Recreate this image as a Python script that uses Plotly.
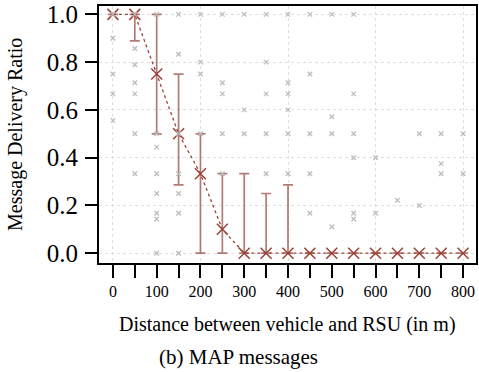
import plotly.graph_objects as go

# ---- data ----
distances = [0, 50, 100, 150, 200, 250, 300, 350, 400, 450, 500, 550, 600, 650, 700, 750, 800]
mean_ratio = [1.0, 1.0, 0.75, 0.5, 0.333, 0.1, 0, 0, 0, 0, 0, 0, 0, 0, 0, 0, 0]
upper_ci = [1.0, 1.0, 1.0, 0.75, 0.5, 0.333, 0.333, 0.25, 0.286, 0, 0, 0, 0, 0, 0, 0, 0]
lower_ci = [1.0, 0.889, 0.5, 0.286, 0, 0, 0, 0, 0, 0, 0, 0, 0, 0, 0, 0, 0]

raw_x = ([0]*5 + [50]*7 + [100]*8 + [150]*7 + [200]*4 + [250]*5 + [300]*3 + [350]*5 +
         [400]*6 + [450]*5 + [500]*4 + [550]*6 + [600]*2 + [650] + [700]*2 + [750]*3 + [800]*2)
raw_y = ([1.0, 0.9, 0.75, 0.667, 0.556] +
         [1.0, 0.857, 0.789, 0.714, 0.667, 0.5, 0.333] +
         [1.0, 0.5, 0.444, 0.333, 0.25, 0.167, 0.143, 0.0] +
         [1.0, 0.833, 0.5, 0.333, 0.25, 0.167, 0.0] +
         [1.0, 0.8, 0.75, 0.5] +
         [1.0, 0.714, 0.667, 0.5, 0.333] +
         [1.0, 0.6, 0.5] +
         [1.0, 0.8, 0.667, 0.5, 0.333] +
         [1.0, 0.714, 0.667, 0.6, 0.5, 0.333] +
         [1.0, 0.75, 0.5, 0.333, 0.167] +
         [1.0, 0.571, 0.5, 0.111] +
         [1.0, 0.667, 0.5, 0.4, 0.167, 0.143] +
         [0.4, 0.167] +
         [0.222] +
         [0.5, 0.2] +
         [0.5, 0.375, 0.333] +
         [0.5, 0.333])

x_tick_vals = [0, 100, 200, 300, 400, 500, 600, 700, 800]
x_minor_vals = [50, 150, 250, 350, 450, 550, 650, 750]
x_grid_vals = [0, 200, 400, 600, 800]
y_tick_vals = [0.0, 0.2, 0.4, 0.6, 0.8, 1.0]
y_tick_text = ["0.0", "0.2", "0.4", "0.6", "0.8", "1.0"]

# ---- derived error arrays ----
err_plus = []
err_minus = []
for m, u, l in zip(mean_ratio, upper_ci, lower_ci):
    if u == m and l == m:
        err_plus.append(None)
        err_minus.append(None)
    else:
        err_plus.append(u - m)
        err_minus.append(m - l)

RED = "#9B4236"
ERR = "rgba(160,90,82,0.8)"
GRAY = "#bcbcbc"
GRID = "#dedede"
FONT = "Liberation Serif, DejaVu Serif, serif"
XR = [-31.8, 829.5]

fig = go.Figure()
fig.add_trace(go.Scatter(
    x=raw_x, y=raw_y, mode="markers", xaxis="x2", yaxis="y",
    marker=dict(symbol="x-thin-open", size=4.5, color=GRAY, line=dict(width=1.3, color=GRAY)),
    hoverinfo="skip", showlegend=False))
fig.add_trace(go.Scatter(
    x=distances, y=mean_ratio, mode="lines+markers",
    line=dict(color=RED, width=1.3, dash="dot"),
    marker=dict(symbol="x-thin-open", size=11, color=RED, line=dict(width=1.5, color=RED)),
    error_y=dict(type="data", array=err_plus, arrayminus=err_minus, symmetric=False,
                 color=ERR, thickness=1.7, width=5),
    showlegend=False))

fig.update_layout(
    width=479, height=372,
    margin=dict(l=99, r=1, t=3, b=109),
    paper_bgcolor="white", plot_bgcolor="white",
    font=dict(family=FONT, color="black"),
    xaxis=dict(range=XR, tickvals=x_tick_vals, ticks="outside", ticklen=13, tickwidth=2,
               tickcolor="black", showgrid=False, zeroline=False,
               showline=True, mirror=True, linecolor="black", linewidth=2,
               tickfont=dict(size=16, family=FONT), ticklabelstandoff=0,
               ticklabeloverflow="allow",
               minor=dict(tickvals=x_minor_vals, ticks="outside", ticklen=13, tickwidth=2,
                          tickcolor="black", showgrid=False)),
    xaxis2=dict(range=XR, overlaying="x", tickvals=x_grid_vals, showticklabels=False,
                ticks="", showgrid=True, gridcolor=GRID, griddash="dot", gridwidth=1,
                zeroline=False, showline=False),
    yaxis=dict(range=[-0.041, 1.035], tickvals=y_tick_vals, ticktext=y_tick_text,
               ticks="outside", ticklen=12, tickwidth=2, tickcolor="black",
               showgrid=True, gridcolor=GRID, griddash="dot", gridwidth=1,
               zeroline=False, showline=True, mirror=True, linecolor="black", linewidth=2,
               tickfont=dict(size=25, family=FONT), ticklabelstandoff=2,
               ticklabeloverflow="allow"),
    annotations=[
        dict(text="Distance between vehicle and RSU (in m)", xref="paper", yref="paper",
             x=0.5, y=-0.241, xanchor="center", yanchor="middle", showarrow=False,
             font=dict(size=20, family=FONT)),
        dict(text="Message Delivery Ratio", xref="paper", yref="paper",
             x=-0.2216, y=0.5, xanchor="center", yanchor="middle", textangle=-90,
             showarrow=False, font=dict(size=20, family=FONT)),
        dict(text="(b) MAP messages", xref="paper", yref="paper",
             x=0.371, y=-0.365, xanchor="center", yanchor="middle", showarrow=False,
             font=dict(size=21, family=FONT)),
    ],
)

fig.write_html("out.html", config={"displayModeBar": False},
               post_script="document.body.style.margin='0px';")
